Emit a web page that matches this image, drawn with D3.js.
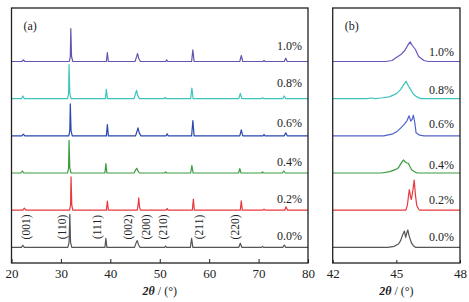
<!DOCTYPE html>
<html lang="en">
<meta charset="utf-8">
<head>
    <script src="https://d3js.org/d3.v7.min.js"></script>
    <style>
        body { margin: 0; background: #fff; }
        text { font-family: "Liberation Serif", "DejaVu Serif", serif; fill: #222; }
    </style>
</head>
<body>
<script>
// sample names, bottom to top
const samples = ["0.0%", "0.2%", "0.4%", "0.6%", "0.8%", "1.0%"];

// panel (a): full scan, [2theta, intensity]
const scan00 = [[20,0],[22.0,0],[22.3,6],[22.6,0],[31.4,0],[31.65,15],[31.8,99],[31.95,15],[32.2,0],
    [38.9,0],[39.1,27],[39.3,0],[44.9,0],[45.25,15],[45.45,20],[45.7,8],[46.0,0],[51.0,0],[51.2,4],[51.4,0],
    [56.2,0],[56.45,27],[56.7,0],[66.0,0],[66.3,12],[66.6,0],[70.6,0],[70.8,3],[71.0,0],[74.9,0],[75.2,7],[75.5,0],[80,0]];
const scan02 = [[20,0],[22.3,0],[22.6,6],[22.9,0],[31.75,0],[31.95,15],[32.05,100],[32.2,15],[32.4,0],
    [39.2,0],[39.4,27],[39.6,0],[45.45,0],[45.65,20],[45.75,37],[45.9,10],[46.1,0],[51.3,0],[51.5,5],[51.7,0],
    [56.6,0],[56.8,33],[57.0,0],[66.3,0],[66.5,28],[66.7,0],[70.9,0],[71.1,3],[71.3,0],[75.3,0],[75.55,10],[75.85,0],[80,0]];
const scan04 = [[20,0],[21.9,0],[22.2,6],[22.5,0],[31.35,0],[31.55,15],[31.65,98],[31.8,15],[32.05,0],
    [38.9,0],[39.1,28],[39.3,0],[44.8,0],[45.15,10],[45.35,14],[45.6,6],[45.9,0],[51.0,0],[51.2,3],[51.4,0],
    [56.25,0],[56.5,22],[56.75,0],[65.95,0],[66.2,13],[66.45,0],[70.6,0],[70.8,3],[71.0,0],[74.8,0],[75.1,6],[75.4,0],[80,0]];
const scan06 = [[20,0],[22.1,0],[22.4,5],[22.7,0],[31.6,0],[31.8,15],[31.9,96],[32.05,15],[32.3,0],
    [39.2,0],[39.4,34],[39.6,0],[45.1,0],[45.45,16],[45.6,24],[45.85,9],[46.2,0],[51.3,0],[51.5,6],[51.7,0],
    [56.45,0],[56.7,46],[56.95,0],[66.2,0],[66.5,18],[66.8,0],[70.9,0],[71.1,4],[71.3,0],[75.2,0],[75.5,9],[75.8,0],[80,0]];
const scan08 = [[20,0],[22.0,0],[22.3,8],[22.6,0],[31.35,0],[31.55,15],[31.65,102],[31.8,15],[32.05,0],
    [39.0,0],[39.2,28],[39.4,0],[44.8,0],[45.15,17],[45.3,25],[45.55,9],[45.9,0],[50.9,0],[51.1,4],[51.3,0],
    [56.25,0],[56.5,32],[56.75,0],[66.0,0],[66.3,16],[66.6,0],[70.6,0],[70.8,3],[71.0,0],[74.9,0],[75.2,8],[75.5,0],[80,0]];
const scan10 = [[20,0],[22.1,0],[22.4,5],[22.7,0],[31.7,0],[31.9,15],[32.0,99],[32.15,15],[32.4,0],
    [39.2,0],[39.4,27],[39.6,0],[45.0,0],[45.35,16],[45.5,24],[45.75,9],[46.1,0],[51.2,0],[51.4,5],[51.6,0],
    [56.45,0],[56.7,35],[56.95,0],[66.2,0],[66.5,18],[66.8,0],[70.9,0],[71.1,3],[71.3,0],[75.2,0],[75.5,10],[75.8,0],[80,0]];
const scansA = [scan00, scan02, scan04, scan06, scan08, scan10];

// panel (b): zoom on the 45 degree reflections
const zoom00 = [[42,0],[44.6,0],[44.9,3],[45.1,10],[45.2,20],[45.3,38],[45.38,49],[45.44,30],[45.5,45],[45.54,52],
    [45.6,35],[45.7,15],[45.8,5],[45.9,0],[48,0]];
const zoom02 = [[42,0],[45.45,0],[45.52,15],[45.61,62],[45.67,40],[45.71,32],[45.78,60],[45.84,90],[45.9,45],
    [45.96,15],[46.05,3],[46.1,0],[48,0]];
const zoom04 = [[42,0],[44.3,0],[44.7,4],[44.95,10],[45.1,16],[45.25,32],[45.33,39],[45.42,33],[45.5,30],[45.57,29],
    [45.65,18],[45.73,9],[45.9,2],[46.0,0],[48,0]];
const zoom06 = [[42,0],[44.4,0],[44.8,5],[45.05,14],[45.2,23],[45.35,33],[45.5,45],[45.6,60],[45.68,44],[45.75,50],
    [45.8,62],[45.87,40],[45.93,9],[46.1,2],[46.3,0],[48,0]];
const zoom08 = [[42,0],[43.6,0],[43.84,2],[44.0,0],[44.3,2],[44.7,6],[45.0,15],[45.2,27],[45.35,42],[45.46,52],
    [45.55,40],[45.65,30],[45.8,14],[45.95,6],[46.15,0],[48,0]];
const zoom10 = [[42,0],[44.5,0],[44.8,3],[45.0,12],[45.2,20],[45.4,33],[45.55,50],[45.65,59],[45.75,48],[45.9,36],
    [46.05,15],[46.3,3],[46.5,0],[48,0]];
const scansB = [zoom00, zoom02, zoom04, zoom06, zoom08, zoom10];

// reflection labels and where they sit along 2theta
const hkl = ["(001)", "(110)", "(111)", "(002)", "(200)", "(210)", "(211)", "(220)"];
const hklPos = [22.9, 30.3, 37.4, 43.6, 47.2, 50.7, 58.0, 65.2];

const ticksA = [20, 30, 40, 50, 60, 70, 80];
const ticksB = [42, 45, 48];

// styles
const colorsA = ["#555555", "#e8383d", "#3b9b3f", "#2947ae", "#3ec4bf", "#6553b0"];
const colorsB = ["#555555", "#e8383d", "#3b9b3f", "#5062cc", "#3ec4bf", "#6a55c0"];
const liftA = [7, 7, 7, 9, 12, 12];
const liftB = [6, 6, 4, 8, 5, 6];
const step = 111.5;

const W = 469, H = 302;
const plotTop = 8, plotBottom = 263;

const svg = d3.select("body").append("svg")
    .attr("width", W)
    .attr("height", H);

const y = d3.scaleLinear().domain([-47, 718]).range([plotBottom, plotTop]);

function panel(x, scans, colors, lift, ticks, tag, tickLen) {
    const [x0, x1] = x.range();
    const g = svg.append("g");

    const line = d3.line()
        .x(d => x(d[0]))
        .y(d => y(d[1]));

    scans.forEach(function(s, i) {
        g.append("path")
            .datum(s.map(d => [d[0], d[1] + i * step]))
            .attr("fill", "none")
            .attr("stroke", colors[i])
            .attr("stroke-width", 1.2)
            .attr("stroke-linejoin", "round")
            .attr("d", line);
        g.append("text")
            .attr("x", x1 - 6)
            .attr("y", y(i * step) - lift[i])
            .attr("text-anchor", "end")
            .attr("font-size", 12)
            .text(samples[i]);
    });

    // bottom axis, ticks pointing inward
    const ax = g.append("g")
        .attr("transform", "translate(0," + plotBottom + ")")
        .call(d3.axisBottom(x).tickValues(ticks).tickSize(-tickLen).tickPadding(6).tickFormat(d3.format("d")));
    ax.select(".domain").remove();
    ax.selectAll("line").attr("stroke", "#222");
    ax.selectAll("text").attr("font-size", 13).attr("font-family", "Liberation Serif").attr("fill", "#222");

    g.append("rect")
        .attr("x", x0).attr("y", plotTop)
        .attr("width", x1 - x0).attr("height", plotBottom - plotTop)
        .attr("fill", "none")
        .attr("stroke", "#222")
        .attr("stroke-width", 1.3);

    g.append("text")
        .attr("x", x0 + 12).attr("y", 30)
        .attr("font-size", 12)
        .text(tag);

    const title = g.append("text")
        .attr("x", (x0 + x1) / 2).attr("y", 295)
        .attr("text-anchor", "middle")
        .attr("font-size", 12);
    title.append("tspan").attr("font-style", "italic").attr("font-weight", "bold").text("2θ");
    title.append("tspan").text(" / (°)");
    return g;
}

const xA = d3.scaleLinear().domain([20, 80]).range([11.5, 308]);
const gA = panel(xA, scansA, colorsA, liftA, ticksA, "(a)", 4);

gA.selectAll(".hkl")
    .data(hkl)
    .enter().append("text")
    .attr("class", "hkl")
    .attr("transform", (d, i) => "translate(" + xA(hklPos[i]) + ",227) rotate(-90)")
    .attr("text-anchor", "middle")
    .attr("dominant-baseline", "central")
    .attr("font-size", 11.5)
    .text(d => d);

const xB = d3.scaleLinear().domain([42, 48]).range([332.7, 460]);
panel(xB, scansB, colorsB, liftB, ticksB, "(b)", 3);
</script>
</body>
</html>
